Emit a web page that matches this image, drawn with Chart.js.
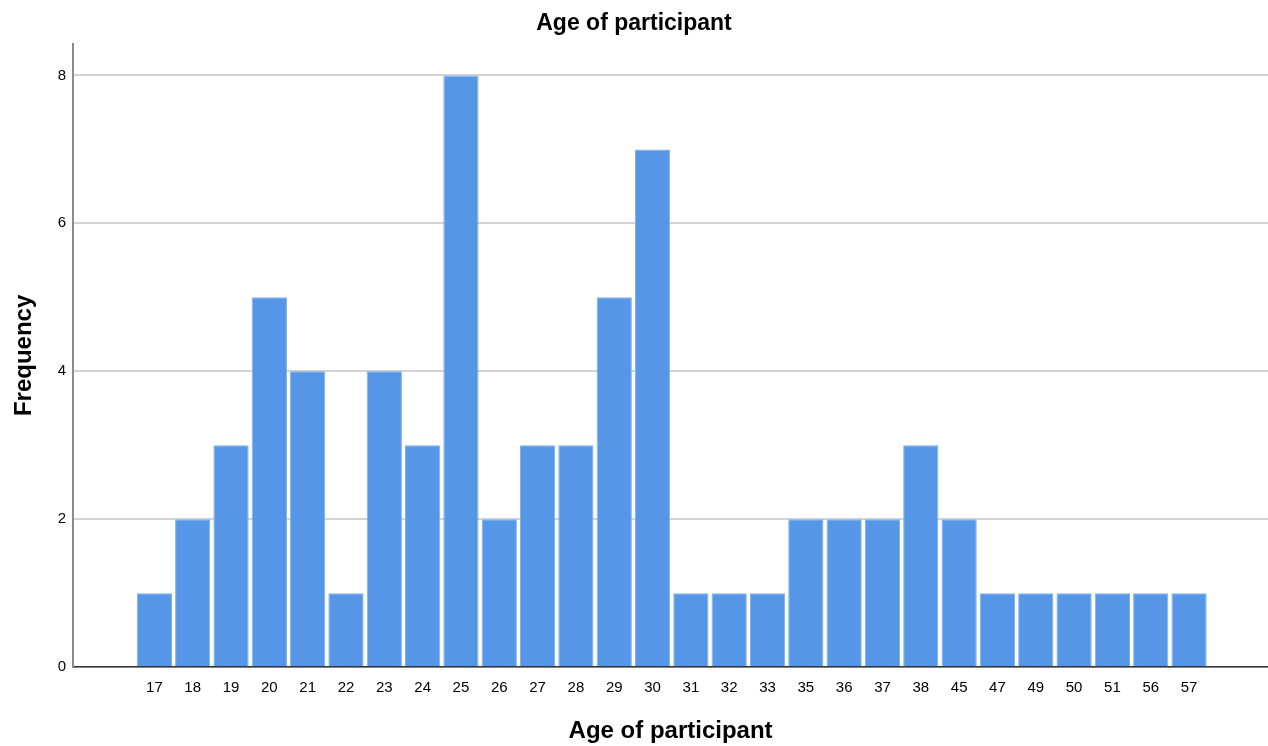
<!DOCTYPE html>
<html>
<head>
<meta charset="utf-8">
<script src="https://cdn.jsdelivr.net/npm/chart.js@4"></script>
<style>
  html, body { margin: 0; padding: 0; background: #fff; }
  #wrap { width: 1268px; height: 746px; }
</style>
</head>
<body>
<div id="wrap"><canvas id="ageChart"></canvas></div>
<script>
// Idade dos participantes e frequência
const ages = ['17', '18', '19', '20', '21', '22', '23', '24', '25', '26', '27', '28', '29', '30',
              '31', '32', '33', '35', '36', '37', '38', '45', '47', '49', '50', '51', '56', '57'];
const frequency = [1, 2, 3, 5, 4, 1, 4, 3, 8, 2, 3, 3, 5, 7,
                   1, 1, 1, 2, 2, 2, 3, 2, 1, 1, 1, 1, 1, 1];
const yTicks = [0, 2, 4, 6, 8];

Chart.defaults.font.family = '"Liberation Sans", Arial, sans-serif';
Chart.defaults.color = '#000';

const ctx = document.getElementById('ageChart').getContext('2d');
new Chart(ctx, {
    type: 'bar',
    data: {
        datasets: [{
            label: 'Frequency',
            data: ages.map((a, i) => ({ x: i, y: frequency[i] })),
            backgroundColor: '#5596e6',
            borderColor: '#7eb0ee',
            borderWidth: 1,
            categoryPercentage: 1,
            barPercentage: 0.92
        }]
    },
    options: {
        responsive: true,
        maintainAspectRatio: false,
        animation: false,
        layout: { padding: 0 },
        plugins: {
            legend: { display: false },
            tooltip: { enabled: false },
            title: {
                display: true,
                text: 'Age of participant',
                font: { size: 23, weight: 'bold' },
                padding: { top: 10, bottom: 6 }
            }
        },
        scales: {
            x: {
                type: 'linear',
                min: -2.12,
                max: 29.06,
                offset: false,
                afterBuildTicks: (scale) => {
                    scale.ticks = ages.map((a, i) => ({ value: i }));
                },
                ticks: {
                    autoSkip: false,
                    maxRotation: 0,
                    padding: 12,
                    font: { size: 15 },
                    callback: (v) => ages[v]
                },
                grid: { display: false, drawTicks: false, offset: false },
                border: { display: true, color: '#333', width: 1.5 },
                title: {
                    display: true,
                    text: 'Age of participant',
                    font: { size: 24, weight: 'bold' },
                    padding: { top: 8, bottom: 0 }
                }
            },
            y: {
                min: 0,
                max: 8.43,
                afterBuildTicks: (scale) => {
                    scale.ticks = yTicks.map(v => ({ value: v }));
                },
                ticks: { padding: 7, font: { size: 15 } },
                grid: { color: '#d4d4d4', lineWidth: 2, drawTicks: false },
                border: { display: true, color: '#8c8c8c', width: 2 },
                title: {
                    display: true,
                    text: 'Frequency',
                    font: { size: 24, weight: 'bold' },
                    padding: { top: 10, bottom: 12 }
                }
            }
        }
    }
});
</script>
</body>
</html>
